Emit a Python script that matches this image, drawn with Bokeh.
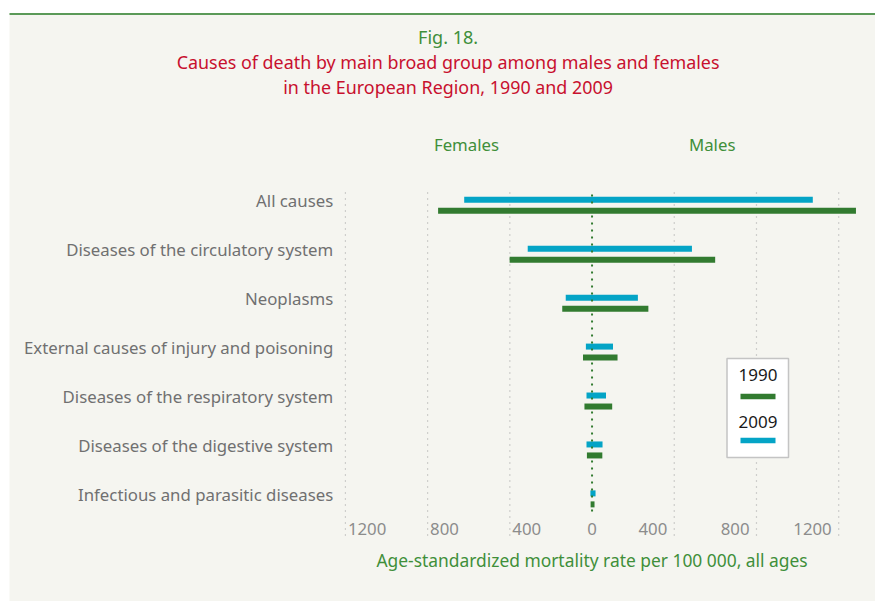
from bokeh.plotting import figure
from bokeh.models import Range1d, ColumnDataSource
from bokeh.transform import dodge
from bokeh.core.properties import value
from bokeh.embed import file_html
from bokeh.resources import INLINE

# ---------------- data ----------------
categories = [
    "All causes",
    "Diseases of the circulatory system",
    "Neoplasms",
    "External causes of injury and poisoning",
    "Diseases of the respiratory system",
    "Diseases of the digestive system",
    "Infectious and parasitic diseases",
]
females_1990 = [749, 401, 145, 44, 37, 25, 7]
males_1990 = [1284, 599, 274, 124, 98, 50, 12]
females_2009 = [622, 313, 128, 30, 27, 27, 8]
males_2009 = [1074, 486, 223, 102, 68, 51, 17]
tick_values = [-1200, -800, -400, 0, 400, 800, 1200]
tick_labels = ["1200", "800", "400", "0", "400", "800", "1200"]
legend_years = ["1990", "2009"]

# ---------------- styling ----------------
W, H = 875, 601
ORIGIN = 0
BG = "#f5f5f0"
GREEN = "#327b30"
BLUE = "#04a4c6"
TGREEN = "#3f8f3a"
RED = "#c8102e"
GREY_TXT = "#707070"
TICK_TXT = "#8c8c8c"
FONT = value("Noto Sans")

# layout mapping (page pixels -> data units)
PX_PER_UNIT = 0.20554
ZERO_PX = 591.55
ROW0_PX = 204.8
ROW_PX = 48.93


def dx(page_x):
    return (page_x - ZERO_PX) / PX_PER_UNIT


def dy(page_y):
    return (page_y - ROW0_PX) / ROW_PX


x_range = Range1d(dx(ORIGIN), dx(ORIGIN + W))
y_range = Range1d(dy(ORIGIN + H), dy(ORIGIN))

p = figure(width=W, height=H, x_range=x_range, y_range=y_range,
           output_backend="svg", toolbar_location=None,
           x_axis_location=None, y_axis_location=None,
           min_border=0, min_border_left=0, min_border_right=0,
           min_border_top=0, min_border_bottom=0)
p.background_fill_color = "white"
p.border_fill_color = "white"
p.outline_line_color = None
p.xgrid.visible = False
p.ygrid.visible = False

# beige panel and green top rule
p.quad(left=dx(9), right=dx(W + 5), top=dy(12.5), bottom=dy(H + 5),
       fill_color=BG, line_color=None)
p.segment(x0=dx(9), x1=dx(W + 5), y0=dy(13.6), y1=dy(13.6),
          line_color="#5b9a58", line_width=2)

# gridlines
grid_x = [t for t in tick_values if t != 0]
p.segment(x0=grid_x, x1=grid_x, y0=[dy(192)] * len(grid_x), y1=[dy(535)] * len(grid_x),
          line_color="#a8a8a8", line_width=1.2, line_dash="1 5")

# bars
idx = list(range(len(categories)))
src = ColumnDataSource(dict(
    idx=idx,
    f90=[-v for v in females_1990], m90=males_1990,
    f09=[-v for v in females_2009], m09=males_2009,
))
bar_h = 6 / ROW_PX
off = 5.5 / ROW_PX
p.hbar(y=dodge("idx", -off), left="f09", right="m09", height=bar_h,
       fill_color=BLUE, line_color=None, source=src)
p.hbar(y=dodge("idx", off), left="f90", right="m90", height=bar_h,
       fill_color=GREEN, line_color=None, source=src)

# zero line
p.segment(x0=[0], x1=[0], y0=[dy(194)], y1=[dy(514)],
          line_color=GREEN, line_width=2, line_dash="2 5")

# category labels (slightly above the row centre, as in the original)
cat_src = ColumnDataSource(dict(idx=idx, cat=categories))
p.text(x=dx(332.7), y=dodge("idx", -4.5 / ROW_PX),
       text="cat", source=cat_src,
       text_align="right", text_baseline="middle",
       text_font=FONT, text_font_size="16.8px", text_color=GREY_TXT)

# tick labels
tx, ta = [], []
for t in tick_values:
    if t < 0:
        tx.append(t + 2.5 / PX_PER_UNIT); ta.append("left")
    elif t > 0:
        tx.append(t - 7 / PX_PER_UNIT); ta.append("right")
    else:
        tx.append(t); ta.append("center")
p.text(x=tx, y=[dy(528.5)] * len(tx), text=tick_labels, text_align=ta,
       text_baseline="middle", text_font=FONT, text_font_size="16.8px",
       text_color=TICK_TXT)

# axis title
p.text(x=[0], y=[dy(559.5)], text=["Age-standardized mortality rate per 100\u00a0000, all ages"],
       text_align="center", text_baseline="middle", text_font=FONT,
       text_font_size="17.4px", text_color=TGREEN)

# Females / Males headers
p.text(x=[dx(466), dx(711.7)], y=[dy(144), dy(144)], text=["Females", "Males"],
       text_align="center", text_baseline="middle", text_font=FONT,
       text_font_size="16.8px", text_color=TGREEN)

# title
p.text(x=[dx(447.6)], y=[dy(36.8)], text=["Fig. 18."], text_align="center",
       text_baseline="middle", text_font=FONT, text_font_size="18px",
       text_color=TGREEN)
p.text(x=[dx(447.6)] * 2, y=[dy(61.5), dy(86.5)],
       text=["Causes of death by main broad group among males and females",
             "in the European Region, 1990 and 2009"],
       text_align="center", text_baseline="middle", text_font=FONT,
       text_font_size="17.9px", text_color=RED)

# legend box
p.quad(left=dx(726.5), right=dx(788), top=dy(358), bottom=dy(457),
       fill_color="white", line_color="#c4c4c4", line_width=1.5)
p.text(x=[dx(757.5)] * 2, y=[dy(374), dy(421)], text=legend_years,
       text_align="center", text_baseline="middle", text_font=FONT,
       text_font_size="17px", text_color="#1a1a1a")
p.segment(x0=[dx(740)] * 2, x1=[dx(775)] * 2, y0=[dy(396), dy(440)],
          y1=[dy(396), dy(440)], line_color=[GREEN, BLUE], line_width=5.5)

open("out.html", "w").write(file_html(p, INLINE))
